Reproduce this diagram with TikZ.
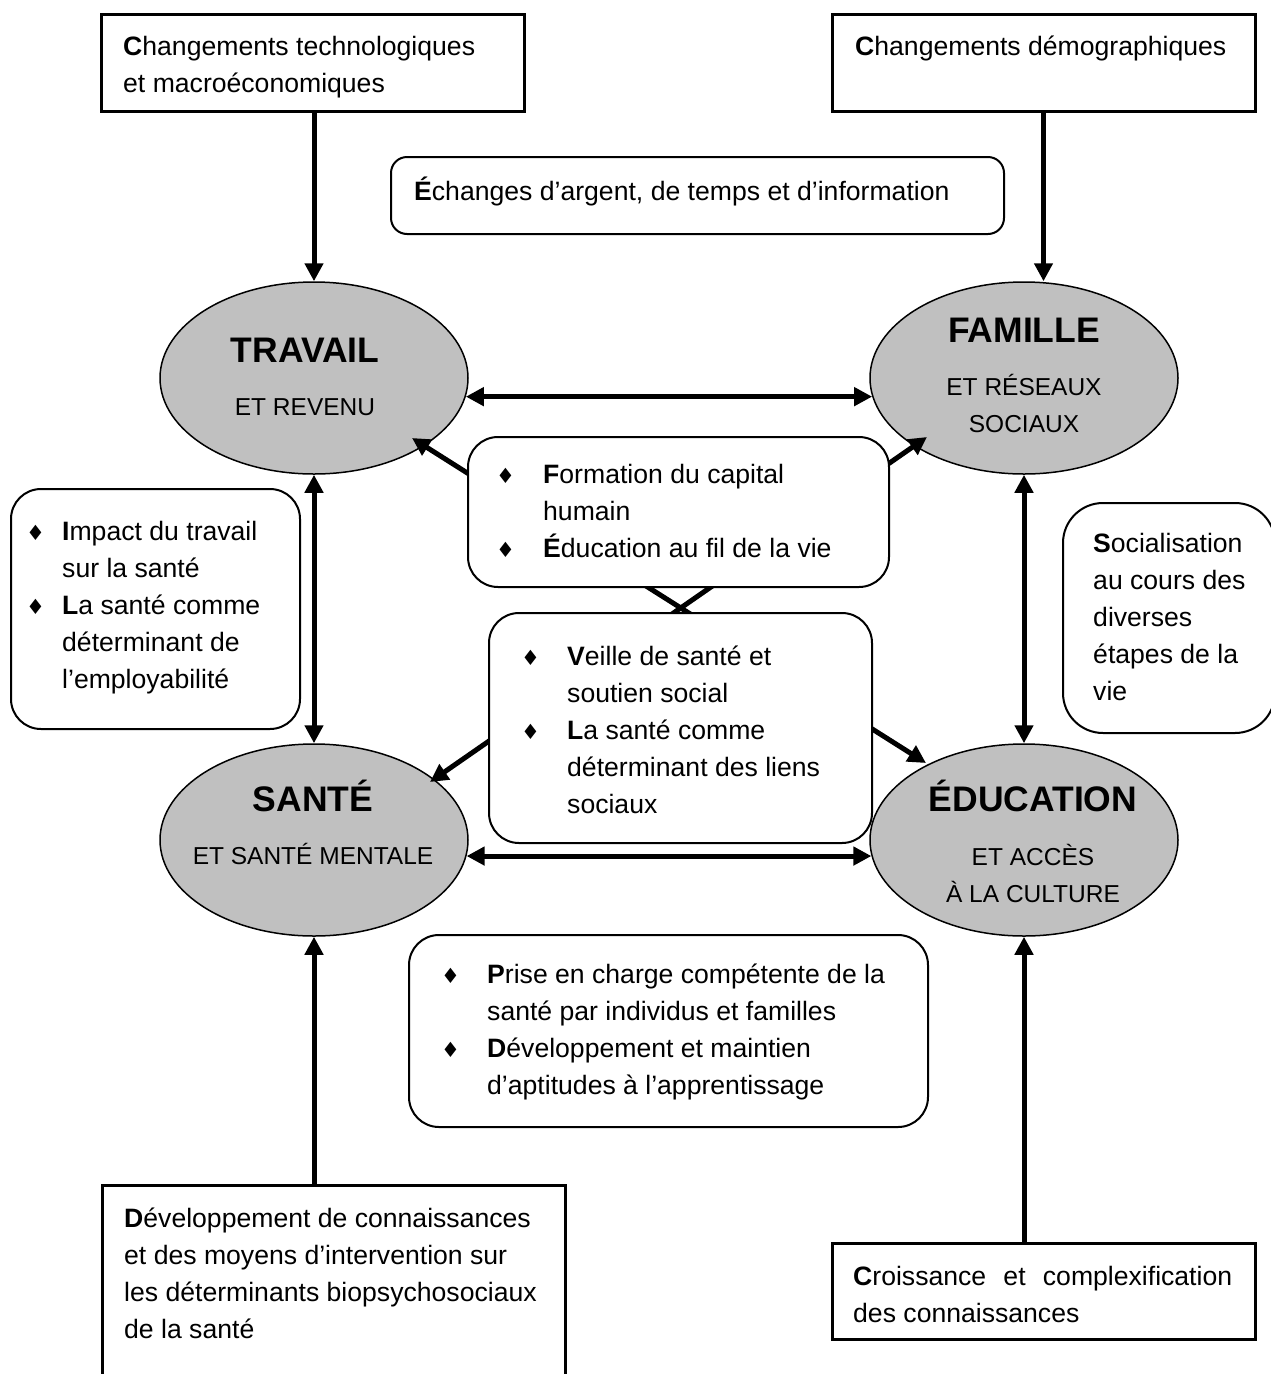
\documentclass[tikz,border=0pt]{standalone}
\usepackage{fontspec}
\setmainfont{Liberation Sans}
\newfontfamily\symfont{DejaVu Sans}
\usetikzlibrary{shapes.geometric,arrows.meta,calc}
\definecolor{ellgray}{RGB}{192,192,192}
\newcommand{\bul}{{\symfont\fontsize{21}{21}\selectfont ♦}}
\newcommand{\rows}[1]{\begin{tabular}[t]{@{}l@{}}#1\end{tabular}}
\newcommand{\blist}[2]{\begin{tabular}[t]{@{}p{#1}@{}l@{}}#2\end{tabular}}
\begin{document}
\begin{tikzpicture}[x=1pt,y=-1pt,
  sqbox/.style={draw,line width=3pt,rectangle,inner sep=0pt,outer sep=0pt,anchor=north west},
  rbox/.style={draw,line width=2pt,rectangle,rounded corners=30pt,fill=white,inner sep=0pt,outer sep=0pt,anchor=north west},
  ell/.style={draw,line width=1.5pt,ellipse,fill=ellgray,inner sep=0pt,minimum width=308pt,minimum height=192pt},
  body/.style={inner sep=0pt,anchor=base west,font=\fontsize{26.6}{37}\selectfont},
  ttl/.style={inner sep=0pt,anchor=base,font=\fontsize{35.5}{40}\selectfont\bfseries},
  sub/.style={inner sep=0pt,anchor=base,font=\fontsize{24.5}{30}\selectfont},
  arr/.style={line width=5pt,-{Triangle[length=18pt,width=18pt]}},
  dbl/.style={line width=5pt,{Triangle[length=18pt,width=18pt]}-{Triangle[length=18pt,width=18pt]}},
]
\useasboundingbox (0,0) rectangle (1271,1374);
\clip (0,0) rectangle (1271,1374);
\fill[white] (0,0) rectangle (1271,1374);

% ellipses
\node[ell] (trav) at (314,378) {};
\node[ell] (fam) at (1024,378) {};
\node[ell] (sante) at (314,840) {};
\node[ell] (edu) at (1024,840) {};

% square boxes
\node[sqbox,minimum width=423pt,minimum height=97pt] (tl) at (101,14) {};
\node[sqbox,minimum width=423pt,minimum height=97pt] (tr) at (832,14) {};
\node[sqbox,minimum width=463pt,minimum height=320pt] (bl) at (102,1185) {};
\node[sqbox,minimum width=423pt,minimum height=96pt] (br) at (832,1243) {};

% arrows
\draw[arr] (tl.south -| trav.north) -- (trav.north);
\draw[arr] (tr.south) -- (fam.north -| tr.south);
\draw[arr] (bl.north -| sante.south) -- (sante.south);
\draw[arr] (br.north -| edu.south) -- (edu.south);
\draw[dbl] (trav.south) -- (sante.north);
\draw[dbl] (fam.south) -- (edu.north);
\draw[dbl] (trav.-7.6) -- (fam.187.6);
\draw[dbl] (sante.-6.8) -- (edu.186.8);
\draw[dbl] ($(trav.center)+(98,60)$) -- ($(edu.center)+(-98,-77)$);
\draw[dbl] ($(sante.center)+(116,-58)$) -- ($(fam.center)+(-97,59)$);

% rounded boxes
\node[rbox,rounded corners=16pt,minimum width=613pt,minimum height=77pt] (ech) at (391,157) {};
\node[rbox,minimum width=421pt,minimum height=150pt] (form) at (468,437) {};
\node[rbox,minimum width=383pt,minimum height=230pt] (veil) at (489,613) {};
\node[rbox,minimum width=289pt,minimum height=240pt] (imp) at (11,489) {};
\node[rbox,rounded corners=40pt,minimum width=212pt,minimum height=230pt] (soc) at (1063,503) {};
\node[rbox,minimum width=519pt,minimum height=192pt] (prise) at (409,935) {};

% ellipse texts
\node[ttl] (t1) at (305,362) {TRAVAIL};
\node[sub] (t1b) at (305,415) {ET REVENU};
\node[ttl] (t2) at (1024,342) {FAMILLE};
\node[sub] (t2b) at (1024,395) {ET RÉSEAUX};
\node[sub] (t2c) at (1024,432) {SOCIAUX};
\node[ttl] (t3) at (313,811) {SANTÉ};
\node[sub] (t3b) at (313,864) {ET SANTÉ MENTALE};
\node[ttl] (t4) at (1033,811) {ÉDUCATION};
\node[sub] (t4b) at (1033,865) {ET ACCÈS};
\node[sub] (t4c) at (1033,902) {À LA CULTURE};

% box texts
\node[body] (x1) at (123,55) {\rows{\textbf{C}hangements technologiques\\ et macroéconomiques}};
\node[body] (x2) at (855,55) {\rows{\textbf{C}hangements démographiques}};
\node[body] (x3) at (414,200) {\rows{\textbf{É}changes d’argent, de temps et d’information}};
\node[body] (x4) at (496,483) {\blist{47pt}{\bul & \textbf{F}ormation du capital\\ & humain\\ \bul & \textbf{É}ducation au fil de la vie}};
\node[body] (x5) at (521,665) {\blist{46pt}{\bul & \textbf{V}eille de santé et\\ & soutien social\\ \bul & \textbf{L}a santé comme\\ & déterminant des liens\\ & sociaux}};
\node[body] (x6) at (26,540) {\blist{36pt}{\bul & \textbf{I}mpact du travail\\ & sur la santé\\ \bul & \textbf{L}a santé comme\\ & déterminant de\\ & l’employabilité}};
\node[body] (x7) at (1093,552) {\rows{\textbf{S}ocialisation\\ au cours des\\ diverses\\ étapes de la\\ vie}};
\node[body] (x8) at (441,983) {\blist{46pt}{\bul & \textbf{P}rise en charge compétente de la\\ & santé par individus et familles\\ \bul & \textbf{D}éveloppement et maintien\\ & d’aptitudes à l’apprentissage}};
\node[body] (x9) at (124,1227) {\rows{\textbf{D}éveloppement de connaissances\\ et des moyens d’intervention sur\\ les déterminants biopsychosociaux\\ de la santé}};
\node[body] (x10) at (853,1285) {\rows{\makebox[379pt][s]{\textbf{C}roissance et complexification}\\ des connaissances}};
\end{tikzpicture}
\end{document}
